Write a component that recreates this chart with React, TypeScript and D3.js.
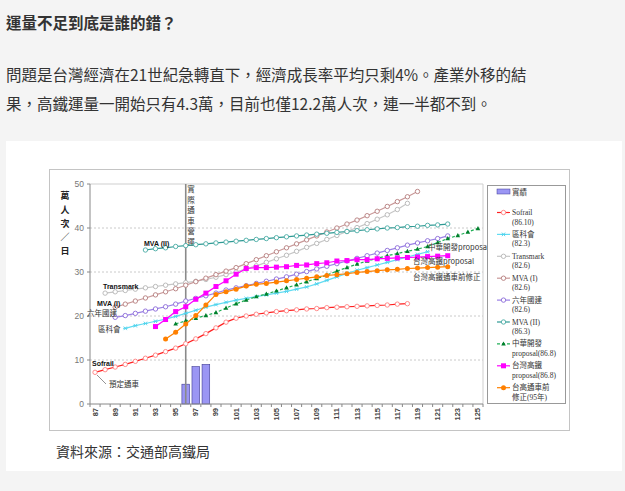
import React from "react";
import * as d3 from "d3";

// 年度 (民國) 87..125
const years = d3.range(87, 126);
const tickYears = years.filter((y) => y % 2 === 1);
const yTicks = [0, 10, 20, 30, 40, 50];

// 實績 (萬人次/日)
const actualYears = [96, 97, 98];
const actual = [4.5, 8.5, 9.0];

// 預測系列: 起始年 + 每年數值
const sofrailStart = 87;
const sofrail = [7.2, 7.8, 8.4, 9.0, 9.7, 10.4, 11.1, 11.9, 12.7, 13.7, 14.8, 16.0, 17.3, 18.6, 19.5, 20.0,
  20.4, 20.7, 21.0, 21.2, 21.4, 21.6, 21.7, 21.9, 22.0, 22.1, 22.2, 22.3, 22.4, 22.5, 22.7, 22.8];

const kekehuiStart = 90;
const kekehui = [17.2, 17.8, 18.3, 18.8, 19.3, 19.9, 20.6, 21.3, 22.0, 22.6, 23.1, 23.6, 24.0, 24.4, 24.8,
  25.2, 25.6, 26.1, 26.6, 27.3, 28.1, 28.9, 29.7, 30.4, 31.0, 31.6, 32.2, 32.8, 33.4, 34.0, 34.6];

const transmarkStart = 88;
const transmark = [25.2, 25.5, 25.8, 26.1, 26.4, 26.7, 27.0, 27.3, 27.6, 27.9, 28.3, 28.8, 29.4, 30.0, 30.7,
  31.4, 32.2, 33.0, 33.8, 34.7, 35.6, 36.5, 37.4, 38.3, 39.2, 40.1, 41.0, 42.0, 43.0, 44.2, 45.6];

const mva1Start = 89;
const mva1 = [22.0, 22.7, 23.4, 24.1, 24.8, 25.5, 26.2, 27.0, 27.8, 28.6, 29.4, 30.2, 31.0, 31.9, 32.8, 33.7,
  34.6, 35.5, 36.4, 37.3, 38.2, 39.1, 40.0, 40.9, 41.8, 42.8, 43.8, 44.9, 46.0, 47.1, 48.3];

const liunianStart = 89;
const liunian = [19.7, 20.1, 20.6, 21.1, 21.6, 22.1, 22.7, 23.4, 24.0, 24.6, 25.2, 25.9, 26.4, 26.9, 27.4,
  27.9, 28.4, 28.9, 29.5, 30.1, 30.7, 31.3, 31.9, 32.5, 33.1, 33.7, 34.3, 34.9, 35.5, 36.1, 36.6, 37.1, 37.6, 38.2];

const mva2Start = 92;
const mva2 = [35.0, 35.3, 35.5, 35.8, 36.0, 36.2, 36.4, 36.6, 36.8, 37.0, 37.2, 37.4, 37.6, 37.8, 38.0, 38.2,
  38.4, 38.6, 38.8, 39.0, 39.2, 39.4, 39.6, 39.8, 40.0, 40.1, 40.3, 40.4, 40.6, 40.7, 40.9];

const zhonghuaStart = 95;
const zhonghua = [18.2, 18.9, 19.5, 20.1, 20.8, 21.8, 22.8, 23.6, 24.4, 25.0, 25.7, 26.4, 27.1, 27.8, 28.5,
  29.3, 30.2, 31.0, 31.8, 32.5, 33.1, 33.7, 34.2, 34.7, 35.2, 35.8, 36.7, 37.6, 38.3, 39.1, 39.9];

const thsrPropStart = 93;
const thsrProp = [17.6, 19.2, 21.0, 22.1, 23.8, 25.2, 26.7, 28.0, 29.5, 30.8, 31.0, 31.0, 31.1, 31.2, 31.5,
  31.6, 31.9, 32.1, 32.5, 32.6, 32.8, 32.8, 33.0, 33.1, 33.2, 33.3, 33.4, 33.5, 33.6, 33.7];

const thsrRevStart = 94;
const thsrRev = [14.8, 16.3, 18.2, 20.1, 22.5, 24.9, 25.5, 26.1, 26.8, 27.2, 27.4, 27.7, 28.0, 28.3, 28.6,
  28.9, 29.2, 29.4, 29.6, 29.9, 30.1, 30.3, 30.5, 30.6, 30.8, 30.9, 31.0, 31.1, 31.2];

const CJK = "'Noto Sans CJK TC', 'Noto Sans CJK SC', sans-serif";
const SERIF = "'Liberation Serif', 'Noto Sans CJK TC', serif";
const SANS = "'Liberation Sans', Arial, 'Noto Sans CJK TC', sans-serif";

type MarkerType = "ocircle" | "star" | "triangle" | "square" | "dot";

const series = [
  { name: "Sofrail", sub: "(86.10)", start: sofrailStart, values: sofrail, line: "#ff2020", mark: "#ff8080", marker: "ocircle" as MarkerType },
  { name: "區科會", sub: "(82.3)", start: kekehuiStart, values: kekehui, line: "#62dcf2", mark: "#4fd2ec", marker: "star" as MarkerType },
  { name: "Transmark", sub: "(82.6)", start: transmarkStart, values: transmark, line: "#c6c6c6", mark: "#b4b4b4", marker: "ocircle" as MarkerType },
  { name: "MVA (I)", sub: "(82.6)", start: mva1Start, values: mva1, line: "#c99898", mark: "#b47c7c", marker: "ocircle" as MarkerType },
  { name: "六年國建", sub: "(82.6)", start: liunianStart, values: liunian, line: "#9b80e6", mark: "#8a6ad8", marker: "ocircle" as MarkerType },
  { name: "MVA (II)", sub: "(86.3)", start: mva2Start, values: mva2, line: "#2f9a94", mark: "#4aaba5", marker: "ocircle" as MarkerType },
  { name: "中華開發", sub: "proposal(86.8)", start: zhonghuaStart, values: zhonghua, line: "#23b058", mark: "#00802c", marker: "triangle" as MarkerType, dash: "3,2" },
  { name: "台灣高鐵", sub: "proposal(86.8)", start: thsrPropStart, values: thsrProp, line: "#ff00ff", mark: "#ff00ff", marker: "square" as MarkerType },
  { name: "台高通車前", sub: "修正(95年)", start: thsrRevStart, values: thsrRev, line: "#ff8000", mark: "#ff8000", marker: "dot" as MarkerType },
];

function Marker({ type, cx, cy, color }: { type: MarkerType; cx: number; cy: number; color: string }) {
  if (type === "ocircle") return <circle cx={cx} cy={cy} r={2.2} fill="#fff" stroke={color} strokeWidth={0.9} />;
  if (type === "square") return <rect x={cx - 2.5} y={cy - 2.5} width={5} height={5} fill={color} />;
  if (type === "dot") return <circle cx={cx} cy={cy} r={2.5} fill={color} />;
  if (type === "triangle")
    return <path d={`M${cx},${cy - 2.5}L${cx + 2.3},${cy + 1.7}L${cx - 2.3},${cy + 1.7}Z`} fill={color} />;
  return (
    <g stroke={color} strokeWidth={0.9}>
      <line x1={cx - 2.2} y1={cy} x2={cx + 2.2} y2={cy} />
      <line x1={cx - 1.6} y1={cy - 1.8} x2={cx + 1.6} y2={cy + 1.8} />
      <line x1={cx - 1.6} y1={cy + 1.8} x2={cx + 1.6} y2={cy - 1.8} />
    </g>
  );
}

export default function App() {
  const left = 90, right = 483, top = 184, bottom = 404;
  const x = d3.scaleBand<number>().domain(years).range([left, right]);
  const bw = x.bandwidth();
  const cx = (yr: number) => (x(yr) as number) + bw / 2;
  const y = d3.scaleLinear().domain([0, 50]).range([bottom, top]);
  const line = d3.line<[number, number]>().x((d) => cx(d[0])).y((d) => y(d[1]));
  const cutX = cx(96);

  return (
    <svg width={625} height={491} style={{ position: "absolute", left: 0, top: 0 }}>
      <rect width={625} height={491} fill="#f4f4f4" />
      <text x={6} y={29} fontFamily={CJK} fontSize={15.5} fontWeight="bold" fill="#333">運量不足到底是誰的錯？</text>
      <text x={6} y={81} fontFamily={CJK} fontSize={15.5} fill="#333">問題是台灣經濟在21世紀急轉直下，經濟成長率平均只剩4%。產業外移的結</text>
      <text x={6} y={110} fontFamily={CJK} fontSize={15.5} fill="#333">果，高鐵運量一開始只有4.3萬，目前也僅12.2萬人次，連一半都不到。</text>

      <rect x={6} y={141} width={616} height={330} fill="#fff" />
      <rect x={49.5} y={169.5} width={520} height={261} fill="#fff" stroke="#c4c4c4" />

      {/* grid */}
      {yTicks.slice(1, -1).map((t) => (
        <line key={t} x1={left} x2={right} y1={y(t)} y2={y(t)} stroke="#bdbdbd" strokeWidth={0.8} strokeDasharray="2,2" />
      ))}
      <path d={`M${left},${top}H${right}V${bottom}`} fill="none" stroke="#cfcfcf" />

      {/* bars */}
      {actualYears.map((yr, i) => (
        <rect key={yr} x={cx(yr) - bw * 0.38} y={y(actual[i])} width={bw * 0.76} height={bottom - y(actual[i])}
          fill="#9b96f4" stroke="#3e3a94" strokeWidth={0.6} />
      ))}

      {/* 通車 marker */}
      <line x1={cutX} x2={cutX} y1={top} y2={bottom} stroke="#8a8a8a" strokeWidth={1.6} />
      {"實際通車營運".split("").map((c, i) => (
        <text key={i} x={191} y={192 + i * 10.5} fontFamily={CJK} fontSize={7.5} fill="#333" textAnchor="middle">{c}</text>
      ))}

      {/* series */}
      {series.map((s) => {
        const pts = s.values.map((v, i) => [s.start + i, v] as [number, number]);
        return (
          <g key={s.name}>
            <path d={line(pts) as string} fill="none" stroke={s.line} strokeWidth={1.2} strokeDasharray={s.dash} />
            {pts.map((p) => <Marker key={p[0]} type={s.marker} cx={cx(p[0])} cy={y(p[1])} color={s.mark} />)}
          </g>
        );
      })}

      {/* axes */}
      <line x1={left} x2={left} y1={top} y2={bottom} stroke="#888" />
      <line x1={left} x2={right} y1={bottom} y2={bottom} stroke="#888" />
      {yTicks.map((t) => (
        <g key={t}>
          <line x1={left - 3} x2={left} y1={y(t)} y2={y(t)} stroke="#888" />
          <text x={84} y={y(t)} dy="0.35em" textAnchor="end" fontFamily={SANS} fontSize={8.5} fill="#777">{t}</text>
        </g>
      ))}
      {years.concat([126]).map((yr) => {
        const xx = left + (yr - 87) * bw;
        return <line key={yr} x1={xx} x2={xx} y1={bottom} y2={bottom + 3} stroke="#888" />;
      })}
      {tickYears.map((yr) => (
        <text key={yr} transform={`translate(${cx(yr) + 2.5},408) rotate(-90)`} textAnchor="end" fontFamily={SANS}
          fontSize={7.5} fontWeight="bold" fill="#444">{yr}</text>
      ))}
      {"萬人次／日".split("").map((c, i) => (
        <text key={i} x={65} y={199 + i * 13.8} textAnchor="middle" fontFamily={CJK} fontSize={9} fontWeight="bold" fill="#222">{c}</text>
      ))}

      {/* annotations */}
      <g fontFamily={SANS} fontSize={7} fontWeight="bold" fill="#111">
        <text x={92} y={366}>Sofrail</text>
        <text x={97} y={306}>MVA (I)</text>
        <text x={103} y={289}>Transmark</text>
        <text x={144} y={246}>MVA (II)</text>
      </g>
      <g fontFamily={CJK} fontSize={7.5} fill="#333">
        <text x={98} y={332}>區科會</text>
        <text x={87} y={316}>六年國建</text>
        <text x={109} y={387}>預定通車</text>
        <text x={428} y={250}>中華開發proposal</text>
        <text x={413} y={264}>台灣高鐵proposal</text>
        <text x={413} y={280}>台灣高鐵通車前修正</text>
      </g>
      <line x1={97} y1={375} x2={106} y2={384} stroke="#666" strokeWidth={0.7} />

      {/* legend */}
      <rect x={487.5} y={185.5} width={78} height={218} fill="#fff" stroke="#999" />
      <rect x={497} y={189} width={13} height={5} fill="#9b96f4" stroke="#3e3a94" strokeWidth={0.5} />
      <text x={512} y={194.5} fontFamily={SERIF} fontSize={7.5} fill="#333">實績</text>
      {series.map((s, i) => {
        const ly = 212.5 + i * 21.9;
        return (
          <g key={s.name}>
            <line x1={497} x2={510} y1={ly} y2={ly} stroke={s.line} strokeWidth={1.2} strokeDasharray={s.dash} />
            <Marker type={s.marker} cx={503.5} cy={ly} color={s.mark} />
            <text x={512} y={ly + 2.5} fontFamily={SERIF} fontSize={7.5} fill="#333">{s.name}</text>
            <text x={512} y={ly + 12} fontFamily={SERIF} fontSize={7.5} fill="#333">{s.sub}</text>
          </g>
        );
      })}

      <text x={56} y={457} fontFamily={CJK} fontSize={14} fill="#333">資料來源：交通部高鐵局</text>
    </svg>
  );
}
